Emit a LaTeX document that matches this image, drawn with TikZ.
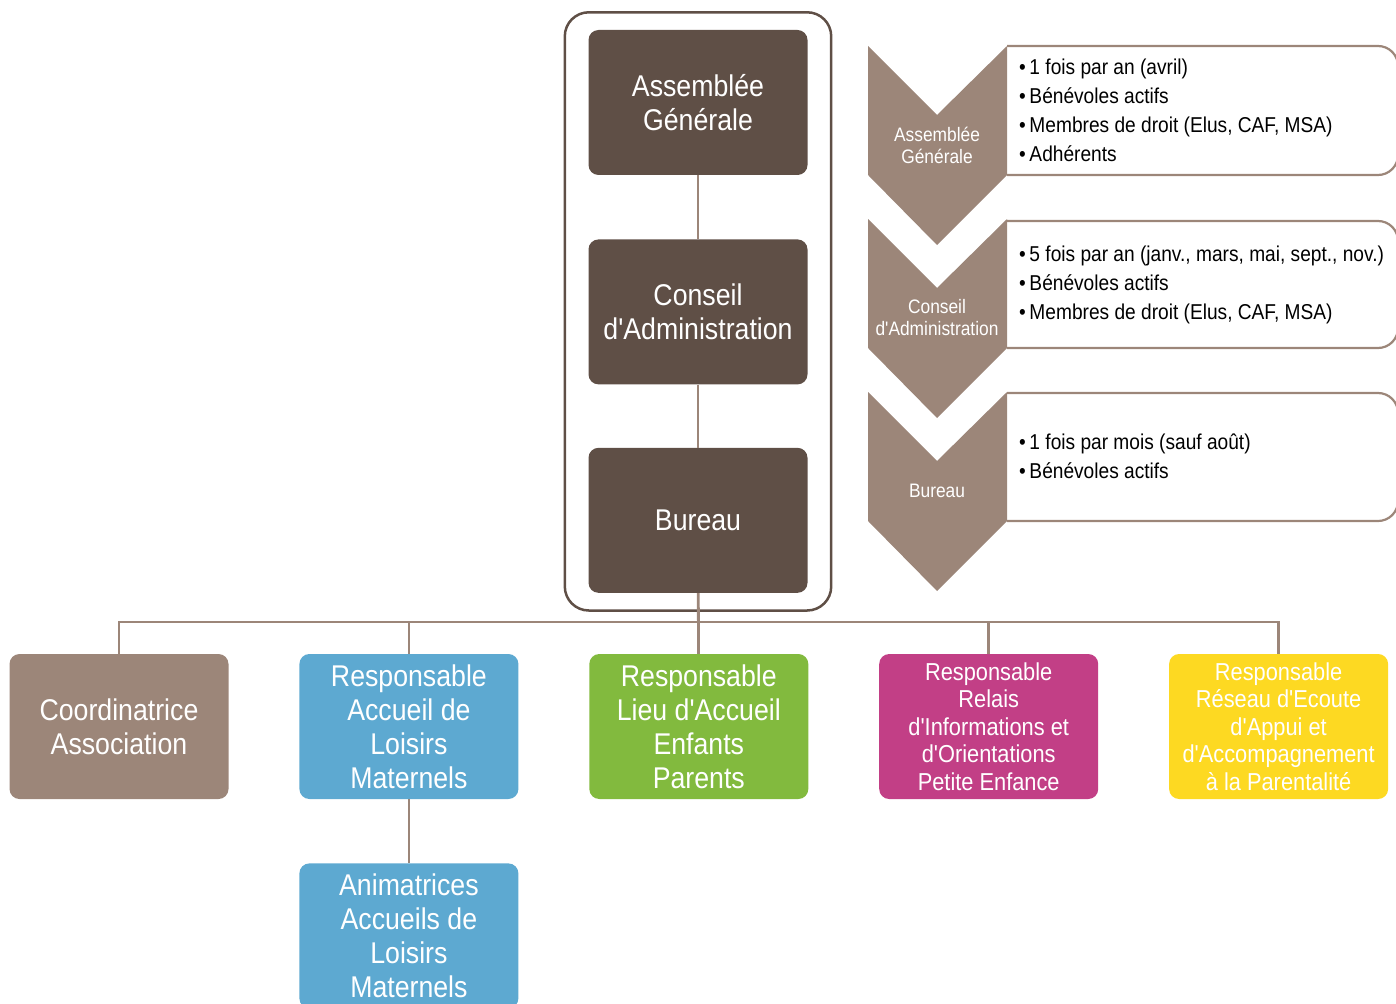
\documentclass[tikz,border=0pt]{standalone}
\usepackage{fontspec}
\setmainfont{Liberation Sans}[FakeStretch=0.89,Ligatures=TeXOff]
\usepackage{tikz}
\usetikzlibrary{positioning,fit}
\definecolor{darkbrown}{HTML}{5F4F46}
\definecolor{taupe}{HTML}{9C8679}
\definecolor{skyblue}{HTML}{5DA9D1}
\definecolor{leafgreen}{HTML}{82BA3E}
\definecolor{plum}{HTML}{C23F86}
\definecolor{sunyellow}{HTML}{FDD922}

\begin{document}
\begin{tikzpicture}[
		x=1pt, y=-1pt,
		font=\fontsize{30}{34}\selectfont,
		orgbox/.style={rounded corners=10pt, minimum width=219pt, minimum height=145pt, inner sep=0pt, align=center, text=white},
		smallbox/.style={orgbox, font=\fontsize{24.5}{27.5}\selectfont},
		link/.style={taupe, line width=2.8pt},
		chevron/.style={fill=taupe, draw=none},
		infobox/.style={draw=taupe, line width=2.2pt, rounded corners=20pt},
		chevlabel/.style={text=white, align=center, inner sep=0pt, font=\fontsize{19.5}{22}\selectfont},
		bullets/.style={anchor=west, align=left, inner sep=0pt, font=\fontsize{21.5}{29}\selectfont}
		]
		\useasboundingbox (0,0) rectangle (1396,1003);
		
		% Centre column
		\node[orgbox, fill=darkbrown] (ag) at (698,102.5) {Assemblée\\Générale};
		\node[orgbox, fill=darkbrown, below=64pt of ag] (ca) {Conseil\\d'Administration};
		\node[orgbox, fill=darkbrown, below=63pt of ca] (bureau) {Bureau};
		\node[draw=darkbrown, line width=2.5pt, rounded corners=24pt, inner xsep=23.5pt, inner ysep=17.5pt, fit=(ag)(bureau)] (frame) {};
		
		% Bottom row
		\node[orgbox, fill=taupe] (coord) at (119,726.5) {Coordinatrice\\Association};
		\node[orgbox, fill=skyblue, right=70.5pt of coord] (ralsh) {Responsable\\Accueil de\\Loisirs\\Maternels};
		\node[orgbox, fill=leafgreen, right=70.5pt of ralsh] (laep) {Responsable\\Lieu d'Accueil\\Enfants\\Parents};
		\node[smallbox, fill=plum, right=70.5pt of laep] (ram) {Responsable\\Relais\\d'Informations et\\d'Orientations\\Petite Enfance};
		\node[smallbox, fill=sunyellow, right=70.5pt of ram] (reaap) {Responsable\\Réseau d'Ecoute\\d'Appui et\\d'Accompagnement\\à la Parentalité};
		\node[orgbox, fill=skyblue, below=64pt of ralsh] (anim) {Animatrices\\Accueils de\\Loisirs\\Maternels};
		
		% Links
		\coordinate (bus) at (698,622);
		\draw[link] (ag) -- (ca);
		\draw[link] (ca) -- (bureau);
		\draw[link] (bureau) -- (laep);
		\draw[link] (coord.north) |- (bus) -| (reaap.north);
		\draw[link] (ralsh.north) -- (ralsh.north |- bus);
		\draw[link] (ram.north) -- (ram.north |- bus);
		\draw[link] (ralsh) -- (anim);
		
		% Info boxes
		\draw[infobox] (1007,46) -- (1398,46) -- (1398,175) -- (1007,175);
		\draw[infobox] (1007,221) -- (1398,221) -- (1398,348) -- (1007,348);
		\draw[infobox] (1007,393) -- (1398,393) -- (1398,521) -- (1007,521);
		
		% Chevrons
		\foreach \top/\nm/\txt in {46/chag/{Assemblée\\Générale}, 219/chca/{Conseil\\d'Administration}, 392/chbu/{Bureau}} {
			\fill[chevron] (868,\top) -- (937,\top+69) -- (1007,\top) -- (1007,\top+129) -- (937,\top+199) -- (868,\top+129) -- cycle;
			\node[chevlabel] (\nm) at (937,\top+99) {\txt};
		}
		
		\node[bullets] (infoag) at (1019,110.5) {\textbullet\,1 fois par an (avril)\\\textbullet\,Bénévoles actifs\\\textbullet\,Membres de droit (Elus, CAF, MSA)\\\textbullet\,Adhérents};
		\node[bullets] (infoca) at (1019,284.5) {\textbullet\,5 fois par an (janv., mars, mai, sept., nov.)\\\textbullet\,Bénévoles actifs\\\textbullet\,Membres de droit (Elus, CAF, MSA)};
		\node[bullets] (infobu) at (1019,456.5) {\textbullet\,1 fois par mois (sauf août)\\\textbullet\,Bénévoles actifs};
		\end{tikzpicture}
\end{document}
